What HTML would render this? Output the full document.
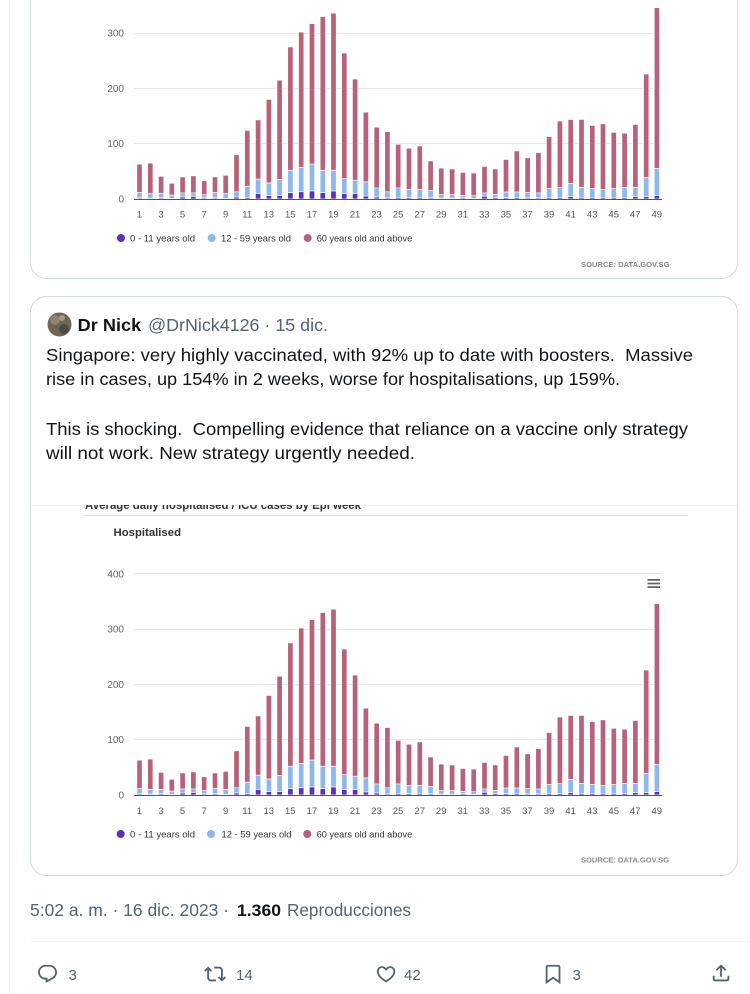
<!DOCTYPE html>
<html>
<head>
<meta charset="utf-8">
<style>
html,body{margin:0;padding:0;background:#fff;}
svg{display:block;}
text{font-family:"Liberation Sans",sans-serif;}
.tw{font-size:17.3px;fill:#0f1419;white-space:pre;}
.gr{fill:#536471;}
.yl{font-size:10px;fill:#666;text-anchor:end;}
.xl{font-size:9.5px;fill:#555;text-anchor:middle;}
.lg{font-size:9.4px;fill:#333;}
.src{font-size:7px;font-weight:bold;fill:#888;}
.cnt{font-size:15px;fill:#536471;}
</style>
</head>
<body>
<svg width="750" height="994" viewBox="0 0 750 994" xmlns="http://www.w3.org/2000/svg">
<defs>
<clipPath id="c2"><rect x="0" y="505" width="750" height="30"/></clipPath>
<g id="bars">
 <g transform="scale(1,-0.553)" stroke="#fff" stroke-width="0.7">
  <g fill="#b8627a">
   <rect vector-effect="non-scaling-stroke" x="136.8" width="5.4" height="63"/>
   <rect vector-effect="non-scaling-stroke" x="147.6" width="5.4" height="65"/>
   <rect vector-effect="non-scaling-stroke" x="158.4" width="5.4" height="41"/>
   <rect vector-effect="non-scaling-stroke" x="169.1" width="5.4" height="28.5"/>
   <rect vector-effect="non-scaling-stroke" x="179.9" width="5.4" height="40"/>
   <rect vector-effect="non-scaling-stroke" x="190.7" width="5.4" height="42"/>
   <rect vector-effect="non-scaling-stroke" x="201.5" width="5.4" height="33"/>
   <rect vector-effect="non-scaling-stroke" x="212.3" width="5.4" height="40"/>
   <rect vector-effect="non-scaling-stroke" x="223.0" width="5.4" height="43"/>
   <rect vector-effect="non-scaling-stroke" x="233.8" width="5.4" height="80"/>
   <rect vector-effect="non-scaling-stroke" x="244.6" width="5.4" height="124"/>
   <rect vector-effect="non-scaling-stroke" x="255.4" width="5.4" height="143"/>
   <rect vector-effect="non-scaling-stroke" x="266.2" width="5.4" height="180"/>
   <rect vector-effect="non-scaling-stroke" x="276.9" width="5.4" height="215"/>
   <rect vector-effect="non-scaling-stroke" x="287.7" width="5.4" height="275"/>
   <rect vector-effect="non-scaling-stroke" x="298.5" width="5.4" height="302"/>
   <rect vector-effect="non-scaling-stroke" x="309.3" width="5.4" height="317"/>
   <rect vector-effect="non-scaling-stroke" x="320.1" width="5.4" height="330"/>
   <rect vector-effect="non-scaling-stroke" x="330.8" width="5.4" height="336"/>
   <rect vector-effect="non-scaling-stroke" x="341.6" width="5.4" height="264"/>
   <rect vector-effect="non-scaling-stroke" x="352.4" width="5.4" height="217"/>
   <rect vector-effect="non-scaling-stroke" x="363.2" width="5.4" height="157"/>
   <rect vector-effect="non-scaling-stroke" x="374.0" width="5.4" height="130"/>
   <rect vector-effect="non-scaling-stroke" x="384.7" width="5.4" height="122"/>
   <rect vector-effect="non-scaling-stroke" x="395.5" width="5.4" height="99"/>
   <rect vector-effect="non-scaling-stroke" x="406.3" width="5.4" height="92"/>
   <rect vector-effect="non-scaling-stroke" x="417.1" width="5.4" height="96"/>
   <rect vector-effect="non-scaling-stroke" x="427.9" width="5.4" height="69"/>
   <rect vector-effect="non-scaling-stroke" x="438.6" width="5.4" height="56"/>
   <rect vector-effect="non-scaling-stroke" x="449.4" width="5.4" height="54.5"/>
   <rect vector-effect="non-scaling-stroke" x="460.2" width="5.4" height="48"/>
   <rect vector-effect="non-scaling-stroke" x="471.0" width="5.4" height="47"/>
   <rect vector-effect="non-scaling-stroke" x="481.8" width="5.4" height="59"/>
   <rect vector-effect="non-scaling-stroke" x="492.5" width="5.4" height="54.5"/>
   <rect vector-effect="non-scaling-stroke" x="503.3" width="5.4" height="71.5"/>
   <rect vector-effect="non-scaling-stroke" x="514.1" width="5.4" height="87"/>
   <rect vector-effect="non-scaling-stroke" x="524.9" width="5.4" height="74.5"/>
   <rect vector-effect="non-scaling-stroke" x="535.7" width="5.4" height="84"/>
   <rect vector-effect="non-scaling-stroke" x="546.4" width="5.4" height="113"/>
   <rect vector-effect="non-scaling-stroke" x="557.2" width="5.4" height="141"/>
   <rect vector-effect="non-scaling-stroke" x="568.0" width="5.4" height="144"/>
   <rect vector-effect="non-scaling-stroke" x="578.8" width="5.4" height="144"/>
   <rect vector-effect="non-scaling-stroke" x="589.6" width="5.4" height="133"/>
   <rect vector-effect="non-scaling-stroke" x="600.3" width="5.4" height="136"/>
   <rect vector-effect="non-scaling-stroke" x="611.1" width="5.4" height="120.6"/>
   <rect vector-effect="non-scaling-stroke" x="621.9" width="5.4" height="119"/>
   <rect vector-effect="non-scaling-stroke" x="632.7" width="5.4" height="135"/>
   <rect vector-effect="non-scaling-stroke" x="643.5" width="5.4" height="226"/>
   <rect vector-effect="non-scaling-stroke" x="654.2" width="5.4" height="346"/>
  </g>
  <g fill="#8cb8ee">
   <rect vector-effect="non-scaling-stroke" x="136.8" width="5.4" height="11.5"/>
   <rect vector-effect="non-scaling-stroke" x="147.6" width="5.4" height="10"/>
   <rect vector-effect="non-scaling-stroke" x="158.4" width="5.4" height="10"/>
   <rect vector-effect="non-scaling-stroke" x="169.1" width="5.4" height="7"/>
   <rect vector-effect="non-scaling-stroke" x="179.9" width="5.4" height="11"/>
   <rect vector-effect="non-scaling-stroke" x="190.7" width="5.4" height="11"/>
   <rect vector-effect="non-scaling-stroke" x="201.5" width="5.4" height="8"/>
   <rect vector-effect="non-scaling-stroke" x="212.3" width="5.4" height="11.5"/>
   <rect vector-effect="non-scaling-stroke" x="223.0" width="5.4" height="10"/>
   <rect vector-effect="non-scaling-stroke" x="233.8" width="5.4" height="13"/>
   <rect vector-effect="non-scaling-stroke" x="244.6" width="5.4" height="23"/>
   <rect vector-effect="non-scaling-stroke" x="255.4" width="5.4" height="36"/>
   <rect vector-effect="non-scaling-stroke" x="266.2" width="5.4" height="29"/>
   <rect vector-effect="non-scaling-stroke" x="276.9" width="5.4" height="35.6"/>
   <rect vector-effect="non-scaling-stroke" x="287.7" width="5.4" height="52"/>
   <rect vector-effect="non-scaling-stroke" x="298.5" width="5.4" height="57"/>
   <rect vector-effect="non-scaling-stroke" x="309.3" width="5.4" height="63"/>
   <rect vector-effect="non-scaling-stroke" x="320.1" width="5.4" height="52"/>
   <rect vector-effect="non-scaling-stroke" x="330.8" width="5.4" height="52"/>
   <rect vector-effect="non-scaling-stroke" x="341.6" width="5.4" height="37"/>
   <rect vector-effect="non-scaling-stroke" x="352.4" width="5.4" height="34"/>
   <rect vector-effect="non-scaling-stroke" x="363.2" width="5.4" height="31"/>
   <rect vector-effect="non-scaling-stroke" x="374.0" width="5.4" height="20"/>
   <rect vector-effect="non-scaling-stroke" x="384.7" width="5.4" height="13"/>
   <rect vector-effect="non-scaling-stroke" x="395.5" width="5.4" height="20"/>
   <rect vector-effect="non-scaling-stroke" x="406.3" width="5.4" height="17"/>
   <rect vector-effect="non-scaling-stroke" x="417.1" width="5.4" height="17.5"/>
   <rect vector-effect="non-scaling-stroke" x="427.9" width="5.4" height="15.7"/>
   <rect vector-effect="non-scaling-stroke" x="438.6" width="5.4" height="8"/>
   <rect vector-effect="non-scaling-stroke" x="449.4" width="5.4" height="8"/>
   <rect vector-effect="non-scaling-stroke" x="460.2" width="5.4" height="6.6"/>
   <rect vector-effect="non-scaling-stroke" x="471.0" width="5.4" height="6"/>
   <rect vector-effect="non-scaling-stroke" x="481.8" width="5.4" height="11"/>
   <rect vector-effect="non-scaling-stroke" x="492.5" width="5.4" height="8.4"/>
   <rect vector-effect="non-scaling-stroke" x="503.3" width="5.4" height="12.7"/>
   <rect vector-effect="non-scaling-stroke" x="514.1" width="5.4" height="12.7"/>
   <rect vector-effect="non-scaling-stroke" x="524.9" width="5.4" height="11.5"/>
   <rect vector-effect="non-scaling-stroke" x="535.7" width="5.4" height="11"/>
   <rect vector-effect="non-scaling-stroke" x="546.4" width="5.4" height="18.7"/>
   <rect vector-effect="non-scaling-stroke" x="557.2" width="5.4" height="20.5"/>
   <rect vector-effect="non-scaling-stroke" x="568.0" width="5.4" height="28.3"/>
   <rect vector-effect="non-scaling-stroke" x="578.8" width="5.4" height="21"/>
   <rect vector-effect="non-scaling-stroke" x="589.6" width="5.4" height="19.3"/>
   <rect vector-effect="non-scaling-stroke" x="600.3" width="5.4" height="17.5"/>
   <rect vector-effect="non-scaling-stroke" x="611.1" width="5.4" height="18.7"/>
   <rect vector-effect="non-scaling-stroke" x="621.9" width="5.4" height="21"/>
   <rect vector-effect="non-scaling-stroke" x="632.7" width="5.4" height="21"/>
   <rect vector-effect="non-scaling-stroke" x="643.5" width="5.4" height="39"/>
   <rect vector-effect="non-scaling-stroke" x="654.2" width="5.4" height="55.5"/>
  </g>
  <g fill="#5a31b8">
   <rect vector-effect="non-scaling-stroke" x="136.8" width="5.4" height="2"/>
   <rect vector-effect="non-scaling-stroke" x="147.6" width="5.4" height="1.5"/>
   <rect vector-effect="non-scaling-stroke" x="158.4" width="5.4" height="2"/>
   <rect vector-effect="non-scaling-stroke" x="169.1" width="5.4" height="1"/>
   <rect vector-effect="non-scaling-stroke" x="179.9" width="5.4" height="3.6"/>
   <rect vector-effect="non-scaling-stroke" x="190.7" width="5.4" height="4.8"/>
   <rect vector-effect="non-scaling-stroke" x="201.5" width="5.4" height="2"/>
   <rect vector-effect="non-scaling-stroke" x="212.3" width="5.4" height="2"/>
   <rect vector-effect="non-scaling-stroke" x="223.0" width="5.4" height="1"/>
   <rect vector-effect="non-scaling-stroke" x="233.8" width="5.4" height="3.6"/>
   <rect vector-effect="non-scaling-stroke" x="244.6" width="5.4" height="3"/>
   <rect vector-effect="non-scaling-stroke" x="255.4" width="5.4" height="9.6"/>
   <rect vector-effect="non-scaling-stroke" x="266.2" width="5.4" height="6"/>
   <rect vector-effect="non-scaling-stroke" x="276.9" width="5.4" height="6"/>
   <rect vector-effect="non-scaling-stroke" x="287.7" width="5.4" height="11.5"/>
   <rect vector-effect="non-scaling-stroke" x="298.5" width="5.4" height="13"/>
   <rect vector-effect="non-scaling-stroke" x="309.3" width="5.4" height="14.5"/>
   <rect vector-effect="non-scaling-stroke" x="320.1" width="5.4" height="11.5"/>
   <rect vector-effect="non-scaling-stroke" x="330.8" width="5.4" height="14.5"/>
   <rect vector-effect="non-scaling-stroke" x="341.6" width="5.4" height="9.6"/>
   <rect vector-effect="non-scaling-stroke" x="352.4" width="5.4" height="9.6"/>
   <rect vector-effect="non-scaling-stroke" x="363.2" width="5.4" height="5.4"/>
   <rect vector-effect="non-scaling-stroke" x="374.0" width="5.4" height="3.6"/>
   <rect vector-effect="non-scaling-stroke" x="384.7" width="5.4" height="2"/>
   <rect vector-effect="non-scaling-stroke" x="395.5" width="5.4" height="3"/>
   <rect vector-effect="non-scaling-stroke" x="406.3" width="5.4" height="2.5"/>
   <rect vector-effect="non-scaling-stroke" x="417.1" width="5.4" height="3"/>
   <rect vector-effect="non-scaling-stroke" x="427.9" width="5.4" height="2"/>
   <rect vector-effect="non-scaling-stroke" x="438.6" width="5.4" height="1.5"/>
   <rect vector-effect="non-scaling-stroke" x="449.4" width="5.4" height="1.5"/>
   <rect vector-effect="non-scaling-stroke" x="460.2" width="5.4" height="2"/>
   <rect vector-effect="non-scaling-stroke" x="471.0" width="5.4" height="1"/>
   <rect vector-effect="non-scaling-stroke" x="481.8" width="5.4" height="5"/>
   <rect vector-effect="non-scaling-stroke" x="492.5" width="5.4" height="3"/>
   <rect vector-effect="non-scaling-stroke" x="503.3" width="5.4" height="2.5"/>
   <rect vector-effect="non-scaling-stroke" x="514.1" width="5.4" height="3"/>
   <rect vector-effect="non-scaling-stroke" x="524.9" width="5.4" height="2"/>
   <rect vector-effect="non-scaling-stroke" x="535.7" width="5.4" height="2"/>
   <rect vector-effect="non-scaling-stroke" x="546.4" width="5.4" height="3"/>
   <rect vector-effect="non-scaling-stroke" x="557.2" width="5.4" height="3"/>
   <rect vector-effect="non-scaling-stroke" x="568.0" width="5.4" height="4.5"/>
   <rect vector-effect="non-scaling-stroke" x="578.8" width="5.4" height="3"/>
   <rect vector-effect="non-scaling-stroke" x="589.6" width="5.4" height="3"/>
   <rect vector-effect="non-scaling-stroke" x="600.3" width="5.4" height="3"/>
   <rect vector-effect="non-scaling-stroke" x="611.1" width="5.4" height="3"/>
   <rect vector-effect="non-scaling-stroke" x="621.9" width="5.4" height="3"/>
   <rect vector-effect="non-scaling-stroke" x="632.7" width="5.4" height="4.5"/>
   <rect vector-effect="non-scaling-stroke" x="643.5" width="5.4" height="4.5"/>
   <rect vector-effect="non-scaling-stroke" x="654.2" width="5.4" height="6"/>
  </g>
 </g>
</g>
</defs>

<rect width="750" height="994" fill="#fff"/>
<line x1="9.5" y1="0" x2="9.5" y2="994" stroke="#eff3f4" stroke-width="1"/>

<!-- ===== TOP CARD ===== -->
<path d="M30.5 -20 V262.5 a16 16 0 0 0 16 16 H721.5 a16 16 0 0 0 16 -16 V-20" fill="#fff" stroke="#cfd9de" stroke-width="1"/>
<g stroke="#e8e8e8" stroke-width="1">
 <line x1="134" y1="143.5" x2="662" y2="143.5"/>
 <line x1="134" y1="88.5" x2="662" y2="88.5"/>
 <line x1="134" y1="33.5" x2="662" y2="33.5"/>
</g>
<use href="#bars" transform="translate(0,199)"/>
<line x1="134" y1="199.5" x2="662" y2="199.5" stroke="#555" stroke-width="1"/>
<text class="yl" x="124" y="202.5">0</text>
<text class="yl" x="124" y="147.2">100</text>
<text class="yl" x="124" y="91.9">200</text>
<text class="yl" x="124" y="36.6">300</text>
<g class="xl">
<text x="139.4" y="217.5">1</text><text x="161.0" y="217.5">3</text><text x="182.5" y="217.5">5</text><text x="204.1" y="217.5">7</text><text x="225.6" y="217.5">9</text><text x="247.2" y="217.5">11</text><text x="268.8" y="217.5">13</text><text x="290.3" y="217.5">15</text><text x="311.9" y="217.5">17</text><text x="333.4" y="217.5">19</text><text x="355.0" y="217.5">21</text><text x="376.5" y="217.5">23</text><text x="398.1" y="217.5">25</text><text x="419.7" y="217.5">27</text><text x="441.2" y="217.5">29</text><text x="462.8" y="217.5">31</text><text x="484.3" y="217.5">33</text><text x="505.9" y="217.5">35</text><text x="527.4" y="217.5">37</text><text x="549.0" y="217.5">39</text><text x="570.6" y="217.5">41</text><text x="592.1" y="217.5">43</text><text x="613.7" y="217.5">45</text><text x="635.2" y="217.5">47</text><text x="656.8" y="217.5">49</text>
</g>
<circle cx="121" cy="238" r="4" fill="#5a31b8"/>
<text class="lg" x="130" y="241.3" textLength="65" lengthAdjust="spacingAndGlyphs">0 - 11 years old</text>
<circle cx="211.7" cy="238" r="4" fill="#8cb8ee"/>
<text class="lg" x="221" y="241.3" textLength="70" lengthAdjust="spacingAndGlyphs">12 - 59 years old</text>
<circle cx="307.7" cy="238" r="4" fill="#b8627a"/>
<text class="lg" x="316.7" y="241.3" textLength="95.5" lengthAdjust="spacingAndGlyphs">60 years old and above</text>
<text class="src" x="581" y="267" textLength="88.5" lengthAdjust="spacingAndGlyphs">SOURCE: DATA.GOV.SG</text>

<!-- ===== SECOND CARD ===== -->
<rect x="30.5" y="296.5" width="707" height="579" rx="16" ry="16" fill="#fff" stroke="#cfd9de" stroke-width="1"/>
<circle cx="59.5" cy="324.5" r="12" fill="#6e6556"/>
<circle cx="55" cy="320" r="5" fill="#8c8372"/>
<circle cx="64" cy="329" r="5" fill="#4f4a40"/>
<circle cx="62" cy="318" r="3" fill="#a29886"/>
<text x="77.7" y="331" style="font-size:17.5px;font-weight:bold;fill:#0f1419" textLength="63.5" lengthAdjust="spacingAndGlyphs">Dr Nick</text>
<text class="tw gr" x="148" y="331" textLength="180" lengthAdjust="spacingAndGlyphs">@DrNick4126 · 15 dic.</text>

<text class="tw" x="46" y="361" textLength="647" lengthAdjust="spacingAndGlyphs">Singapore: very highly vaccinated, with 92% up to date with boosters.  Massive</text>
<text class="tw" x="46" y="385" textLength="574" lengthAdjust="spacingAndGlyphs">rise in cases, up 154% in 2 weeks, worse for hospitalisations, up 159%.</text>
<text class="tw" x="46" y="435" textLength="642" lengthAdjust="spacingAndGlyphs">This is shocking.  Compelling evidence that reliance on a vaccine only strategy</text>
<text class="tw" x="46" y="459" textLength="369" lengthAdjust="spacingAndGlyphs">will not work. New strategy urgently needed.</text>

<line x1="31" y1="505.5" x2="737" y2="505.5" stroke="#eeeeee" stroke-width="1"/>
<g clip-path="url(#c2)">
 <text x="85" y="509" style="font-size:12px;font-weight:bold;fill:#333" textLength="276" lengthAdjust="spacingAndGlyphs">Average daily hospitalised / ICU cases by Epi week</text>
</g>
<line x1="85" y1="515.5" x2="688" y2="515.5" stroke="#dddddd" stroke-width="1"/>
<text x="113.5" y="536" style="font-size:11px;font-weight:bold;fill:#333" textLength="67.5" lengthAdjust="spacingAndGlyphs">Hospitalised</text>

<g stroke="#e8e8e8" stroke-width="1">
 <line x1="134" y1="739.5" x2="662" y2="739.5"/>
 <line x1="134" y1="684.5" x2="662" y2="684.5"/>
 <line x1="134" y1="629.5" x2="662" y2="629.5"/>
 <line x1="134" y1="573.5" x2="662" y2="573.5"/>
</g>
<g fill="#666">
 <rect x="647.5" y="579" width="12.5" height="1.8"/>
 <rect x="647.5" y="582.6" width="12.5" height="1.8"/>
 <rect x="647.5" y="586.2" width="12.5" height="1.8"/>
</g>
<use href="#bars" transform="translate(0,795)"/>
<line x1="134" y1="795.5" x2="662" y2="795.5" stroke="#555" stroke-width="1"/>
<text class="yl" x="124" y="798.5">0</text>
<text class="yl" x="124" y="743.2">100</text>
<text class="yl" x="124" y="687.9">200</text>
<text class="yl" x="124" y="632.6">300</text>
<text class="yl" x="124" y="577.3">400</text>
<g class="xl">
<text x="139.4" y="814">1</text><text x="161.0" y="814">3</text><text x="182.5" y="814">5</text><text x="204.1" y="814">7</text><text x="225.6" y="814">9</text><text x="247.2" y="814">11</text><text x="268.8" y="814">13</text><text x="290.3" y="814">15</text><text x="311.9" y="814">17</text><text x="333.4" y="814">19</text><text x="355.0" y="814">21</text><text x="376.5" y="814">23</text><text x="398.1" y="814">25</text><text x="419.7" y="814">27</text><text x="441.2" y="814">29</text><text x="462.8" y="814">31</text><text x="484.3" y="814">33</text><text x="505.9" y="814">35</text><text x="527.4" y="814">37</text><text x="549.0" y="814">39</text><text x="570.6" y="814">41</text><text x="592.1" y="814">43</text><text x="613.7" y="814">45</text><text x="635.2" y="814">47</text><text x="656.8" y="814">49</text>
</g>
<circle cx="120.7" cy="834" r="4" fill="#5a31b8"/>
<text class="lg" x="130" y="837.3" textLength="65" lengthAdjust="spacingAndGlyphs">0 - 11 years old</text>
<circle cx="211" cy="834" r="4" fill="#8cb8ee"/>
<text class="lg" x="221.5" y="837.3" textLength="70" lengthAdjust="spacingAndGlyphs">12 - 59 years old</text>
<circle cx="307.3" cy="834" r="4" fill="#b8627a"/>
<text class="lg" x="316.7" y="837.3" textLength="95.5" lengthAdjust="spacingAndGlyphs">60 years old and above</text>
<text class="src" x="581" y="862.5" textLength="88" lengthAdjust="spacingAndGlyphs">SOURCE: DATA.GOV.SG</text>

<!-- ===== FOOTER ===== -->
<text class="tw gr" x="30" y="916" textLength="199" lengthAdjust="spacingAndGlyphs">5:02 a. m. · 16 dic. 2023 ·</text>
<text x="237" y="916" style="font-size:17px;font-weight:bold;fill:#0f1419" textLength="44" lengthAdjust="spacingAndGlyphs">1.360</text>
<text class="tw gr" x="287" y="916" textLength="124" lengthAdjust="spacingAndGlyphs">Reproducciones</text>
<line x1="30" y1="941.5" x2="750" y2="941.5" stroke="#eff3f4" stroke-width="1"/>

<g fill="#536471">
 <g transform="translate(36.5,963) scale(0.92)"><path d="M1.751 10c0-4.42 3.584-8 8.005-8h4.366c4.49 0 8.129 3.64 8.129 8.13 0 2.96-1.607 5.68-4.196 7.11l-8.054 4.46v-3.69h-.067c-4.49.1-8.183-3.51-8.183-8.01zm8.005-6c-3.317 0-6.005 2.690-6.005 6 0 3.370 2.770 6.080 6.138 6.010l.351-.01h1.761v2.3l5.087-2.81c1.951-1.08 3.163-3.13 3.163-5.36 0-3.39-2.744-6.13-6.129-6.13H9.756z"/></g>
 <g transform="translate(204,963) scale(0.92)"><path d="M4.5 3.88l4.432 4.14-1.364 1.46L5.5 7.55V16c0 1.1.896 2 2 2H13v2H7.5c-2.209 0-4-1.79-4-4V7.55L1.432 9.48.068 8.02 4.5 3.88zM16.5 6H11V4h5.5c2.209 0 4 1.79 4 4v8.45l2.068-1.93 1.364 1.46-4.432 4.14-4.432-4.14 1.364-1.46 2.068 1.93V8c0-1.1-.896-2-2-2z"/></g>
 <g transform="translate(375,963) scale(0.92)"><path d="M16.697 5.5c-1.222-.06-2.679.51-3.89 2.16l-.805 1.09-.806-1.09C9.984 6.01 8.526 5.44 7.304 5.5c-1.243.07-2.349.78-2.91 1.91-.552 1.12-.633 2.78.479 4.82 1.074 1.97 3.257 4.27 7.129 6.61 3.87-2.34 6.052-4.64 7.126-6.61 1.111-2.04 1.03-3.7.477-4.82-.561-1.13-1.666-1.84-2.908-1.91zm4.187 7.69c-1.351 2.48-4.001 5.12-8.379 7.670l-.503.3-.504-.3c-4.379-2.55-7.029-5.19-8.382-7.67-1.36-2.5-1.41-4.86-.514-6.67.887-1.790 2.647-2.910 4.601-3.010 1.651-.09 3.368.56 4.798 2.01 1.429-1.45 3.146-2.1 4.796-2.01 1.954.1 3.714 1.22 4.601 3.01.896 1.81.846 4.17-.514 6.67z"/></g>
 <g transform="translate(542,963) scale(0.92)"><path d="M4 4.5C4 3.12 5.119 2 6.5 2h11C18.881 2 20 3.12 20 4.5v18.44l-8-5.71-8 5.71V4.5zM6.5 4c-.276 0-.5.22-.5.5v14.56l6-4.29 6 4.29V4.5c0-.28-.224-.5-.5-.5h-11z"/></g>
 <g transform="translate(710,962) scale(0.92)"><path d="M12 2.59l5.7 5.7-1.41 1.42L13 6.41V16h-2V6.41l-3.3 3.3-1.41-1.420L12 2.59zM21 15l-.02 3.51c0 1.38-1.12 2.49-2.5 2.49H5.5C4.11 21 3 19.88 3 18.5V15h2v3.5c0 .28.22.5.5.5h12.98c.28 0 .5-.22.5-.5L19 15h2z"/></g>
</g>
<text class="cnt" x="68.5" y="980">3</text>
<text class="cnt" x="236" y="980">14</text>
<text class="cnt" x="404" y="980">42</text>
<text class="cnt" x="572.5" y="980">3</text>
</svg>
</body>
</html>
